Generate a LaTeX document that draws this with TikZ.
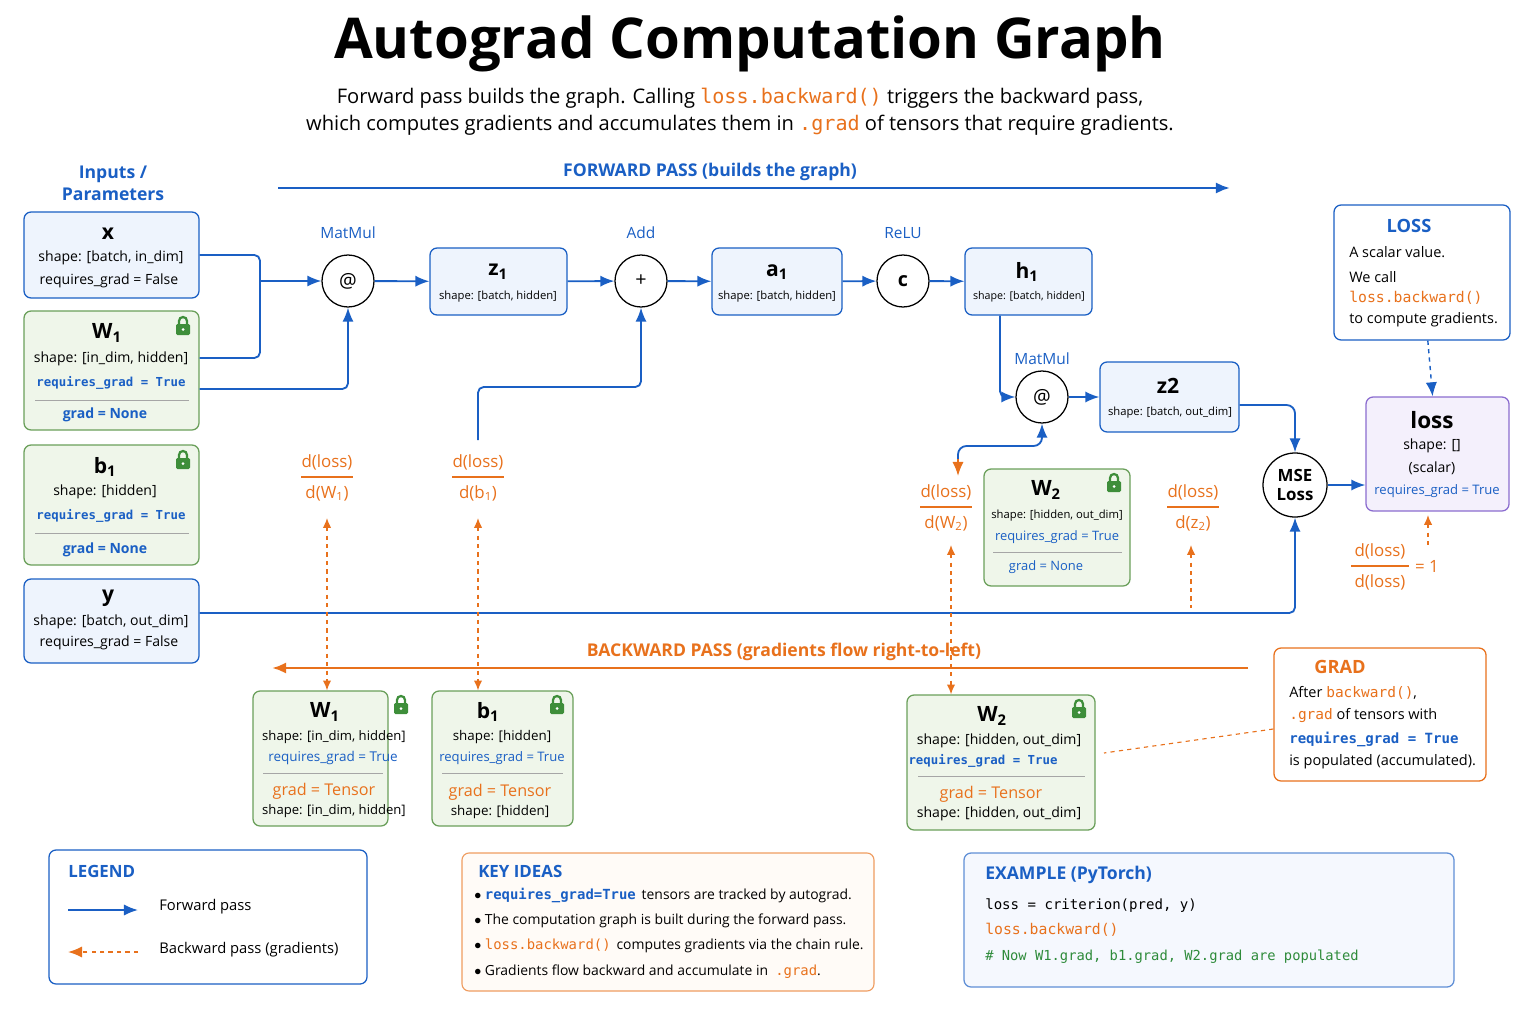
\documentclass[tikz,border=0pt]{standalone}
\usepackage{fontspec}
\setmainfont{Open Sans}
\setmonofont{DejaVu Sans Mono}
\usetikzlibrary{fit,positioning,arrows.meta}
\definecolor{fwdblue}{HTML}{1A5FC4}
\definecolor{bwdorange}{HTML}{E8711C}
\definecolor{boxblue}{HTML}{EEF4FD}
\definecolor{boxgreen}{HTML}{EFF6EA}
\definecolor{edgegreen}{HTML}{6A9F5A}
\definecolor{lockgreen}{HTML}{3E8E3A}
\definecolor{boxpurple}{HTML}{F4F0FC}
\definecolor{edgepurple}{HTML}{8B6CCF}
\definecolor{codegreen}{HTML}{2E8B3A}
\newcommand{\fs}[1]{\fontsize{#1}{#1}\selectfont}
\newcommand{\gradfrac}[5]{%
  \node[gradtxt] (#1num) at (#2,#3-15) {d(loss)};
  \draw[bwdorange, line width=0.8pt] (#2-#5,#3) -- (#2+#5,#3);
  \node[gradtxt] (#1den) at (#2,#3+16) {#4};}
\tikzset{padlock/.pic={
  \fill[lockgreen, rounded corners=1] (-7,-1) rectangle (7,10);
  \draw[lockgreen, line width=1.6pt] (-4,-1) -- (-4,-4) arc (180:360:4) -- (4,-1);
  \fill[white] (0,4.5) circle (1.5);}}
\begin{document}
\begin{tikzpicture}[x=0.025cm, y=-0.025cm, >={Latex[length=10pt,width=8pt]}]
  \tikzstyle{tbox}=[draw=fwdblue, fill=boxblue, rounded corners=5, line width=0.9pt, inner sep=0pt]
  \tikzstyle{pbox}=[draw=edgegreen, fill=boxgreen, rounded corners=5, line width=0.9pt, inner sep=0pt]
  \tikzstyle{note}=[draw=fwdblue, fill=white, rounded corners=5, line width=0.9pt, inner sep=0pt]
  \tikzstyle{op}=[draw, circle, fill=white, minimum size=1.3cm, inner sep=0pt, line width=0.9pt, font=\fs{14}]
  \tikzstyle{ttl}=[inner sep=0pt, font=\fs{15}\bfseries]
  \tikzstyle{txt}=[inner sep=0pt, font=\fs{10}]
  \tikzstyle{small}=[inner sep=0pt, font=\fs{8}]
  \tikzstyle{req}=[inner sep=0pt, font=\fs{8.8}\ttfamily\bfseries, text=fwdblue]
  \tikzstyle{oplbl}=[inner sep=0pt, font=\fs{11}, text=fwdblue]
  \tikzstyle{gradtxt}=[inner sep=0pt, font=\fs{12}, text=bwdorange]
  \tikzstyle{fwd}=[draw=fwdblue, line width=1.3pt, ->]
  \tikzstyle{bwd}=[draw=bwdorange, line width=1pt, dashed, {Latex[length=7pt,width=6pt]}-{Latex[length=7pt,width=6pt]}]
  \tikzstyle{sep}=[draw=gray!70, line width=0.6pt]
  \useasboundingbox (0,0) rectangle (1536,1024);

% title
\node[inner sep=0pt, font=\fs{40}\bfseries] (title) at (750,44) {Autograd Computation Graph};
\node[inner sep=0pt, font=\fs{14.3}] (sub1) at (740,98) {Forward pass builds the graph. Calling \textcolor{bwdorange}{\texttt{loss.backward()}} triggers the backward pass,};
\node[inner sep=0pt, font=\fs{14.3}] (sub2) at (740,125) {which computes gradients and accumulates them in \textcolor{bwdorange}{\texttt{.grad}} of tensors that require gradients.};

\node[inner sep=0pt, font=\fs{12.5}\bfseries, text=fwdblue, align=center] (inlbl) at (113,183) {Inputs /\\[3pt]Parameters};
\coordinate (fwdA) at (278,188);
\coordinate (fwdB) at (1230,188);
\draw[fwd, line width=2pt] (fwdA) -- (fwdB);
\node[inner sep=0pt, font=\fs{12.5}\bfseries, text=fwdblue] (fwdlbl) at (710,172) {FORWARD PASS (builds the graph)};

% inputs
\node[tbox, fit={(24,212)(199,298)}] (x) {};
\node[ttl] (xt) at (108,234) {x};
\node[txt] (xs) at (111,258) {shape: [batch, in\_dim]};
\node[txt] (xr) at (109,281) {requires\_grad = False};

\node[pbox, fit={(24,311)(199,430)}] (W1) {};
\node[ttl] (W1t) at (107,333) {W\textsubscript{1}};
\pic at (183,325) {padlock};
\node[txt] (W1s) at (111,359) {shape: [in\_dim, hidden]};
\node[req] (W1r) at (111,383) {requires\_grad = True};
\draw[sep] (35,400) -- (189,400);
\node[txt, font=\fs{10}\bfseries, text=fwdblue] (W1g) at (105,415) {grad = None};

\node[pbox, fit={(24,445)(199,565)}] (b1) {};
\node[ttl] (b1t) at (105,467) {b\textsubscript{1}};
\pic at (183,459) {padlock};
\node[txt] (b1s) at (105,492) {shape: [hidden]};
\node[req] (b1r) at (111,516) {requires\_grad = True};
\draw[sep] (35,533) -- (189,533);
\node[txt, font=\fs{10}\bfseries, text=fwdblue] (b1g) at (105,550) {grad = None};

\node[tbox, fit={(24,579)(199,663)}] (y) {};
\node[ttl] (yt) at (108,598) {y};
\node[txt] (ys) at (111,622) {shape: [batch, out\_dim]};
\node[txt] (yr) at (109,643) {requires\_grad = False};

% forward graph
\node[op] (mm1) at (348,281) {@};
\node[oplbl] (mm1l) at (348,233) {MatMul};
\node[tbox, fit={(430,248)(567,315)}] (z1) {};
\node[ttl] (z1t) at (498,272) {z\textsubscript{1}};
\node[small] (z1s) at (498,297) {shape: [batch, hidden]};
\node[op] (add) at (641,281) {+};
\node[oplbl] (addl) at (641,233) {Add};
\node[tbox, fit={(712,248)(842,315)}] (a1) {};
\node[ttl] (a1t) at (777,272) {a\textsubscript{1}};
\node[small] (a1s) at (777,297) {shape: [batch, hidden]};
\node[op] (relu) at (903,281) {\textbf{c}};
\node[oplbl] (relul) at (903,233) {ReLU};
\node[tbox, fit={(965,248)(1092,315)}] (h1) {};
\node[ttl] (h1t) at (1027,272) {h\textsubscript{1}};
\node[small, font=\fs{7.6}] (h1s) at (1029,297) {shape: [batch, hidden]};
\node[op] (mm2) at (1042,397) {@};
\node[oplbl] (mm2l) at (1042,359) {MatMul};
\node[tbox, fit={(1100,362)(1239,432)}] (z2) {};
\node[ttl] (z2t) at (1168,386) {z2};
\node[small] (z2s) at (1170,413) {shape: [batch, out\_dim]};
\node[op, minimum size=1.6cm, font=\fs{12}\bfseries, align=center] (mse) at (1295,485) {MSE\\[2pt]Loss};
\node[draw=edgepurple, fill=boxpurple, rounded corners=5, line width=0.9pt, inner sep=0pt, fit={(1366,397)(1509,511)}] (loss) {};
\node[ttl, font=\fs{16}\bfseries] (losst) at (1432,420) {loss};
\node[txt] (losss) at (1432,446) {shape: []};
\node[txt] (lossc) at (1432,468) {(scalar)};
\node[txt, font=\fs{9.3}, text=fwdblue] (lossr) at (1437,491) {requires\_grad = True};

\node[note, fit={(1334,205)(1510,340)}] (lossnote) {};
\node[inner sep=0pt, font=\fs{13}\bfseries, text=fwdblue] (lossnotet) at (1409,226) {LOSS};
\node[txt, anchor=west, font=\fs{10.3}] (ln1) at (1349,252) {A scalar value.};
\node[txt, anchor=west, font=\fs{10.3}] (ln2) at (1349,277) {We call};
\node[txt, anchor=west, font=\fs{10.5}\ttfamily, text=bwdorange] (ln3) at (1349,298) {loss.backward()};
\node[txt, anchor=west, font=\fs{10.3}] (ln4) at (1349,320) {to compute gradients.};

\node[pbox, fit={(984,469)(1130,586)}] (W2) {};
\node[ttl] (W2t) at (1046,490) {W\textsubscript{2}};
\pic at (1114,482) {padlock};
\node[small] (W2s) at (1057,516) {shape: [hidden, out\_dim]};
\node[txt, font=\fs{9.2}, text=fwdblue] (W2r) at (1057,537) {requires\_grad = True};
\draw[sep] (993,552) -- (1122,552);
\node[txt, font=\fs{9.2}, text=fwdblue] (W2g) at (1046,567) {grad = None};

% forward edges
\coordinate (jx) at (260,281);
\draw[draw=fwdblue, line width=1.3pt, rounded corners=4] (x.east |- 0,255) -| (jx) |- (W1.east |- 0,358);
\draw[fwd] (jx) -- (mm1);
\draw[fwd, rounded corners=4] (W1.east |- 0,389) -| (mm1);
\draw[fwd] (mm1) -- (z1);
\coordinate (b1src) at (478,440);
\draw[fwd, rounded corners=4] (b1src) |- (560,387) -| (add);
\draw[fwd] (z1) -- (add);
\draw[fwd] (add) -- (a1);
\draw[fwd] (a1) -- (relu);
\draw[fwd] (relu) -- (h1);
\draw[fwd, rounded corners=4] (h1.south -| 1000,0) |- (mm2);
\draw[fwd] (mm2) -- (z2);
\draw[fwd, rounded corners=6] (z2.east |- 0,405) -| (mse);
\draw[fwd, rounded corners=4] (y.east |- 0,613) -| (mse);
\draw[fwd] (mse) -- (loss.west |- mse);
\draw[fwd, <-, rounded corners=6] (mm2) |- (1000,446) -| (958,460);
\draw[draw=bwdorange, fill=bwdorange, ->, line width=1.3pt] (958,459) -- (958,476);
\draw[fwd, dashed, line width=1pt] (lossnote) -- (loss);

% gradient labels
\gradfrac{gW1}{327}{477}{d(W\textsubscript{1})}{26}
\gradfrac{gb1}{478}{477}{d(b\textsubscript{1})}{26}
\gradfrac{gW2}{946}{507}{d(W\textsubscript{2})}{26}
\gradfrac{gz2}{1193}{507}{d(z\textsubscript{2})}{26}
\gradfrac{gL}{1380}{566}{d(loss)}{29}
\node[gradtxt] (eq1) at (1427,566) {= 1};

% backward pass
\coordinate (bwdA) at (1248,668);
\coordinate (bwdB) at (272,668);
\draw[draw=bwdorange, line width=2pt, ->] (bwdA) -- (bwdB);
\node[inner sep=0pt, font=\fs{12.5}\bfseries, text=bwdorange] (bwdlbl) at (784,652) {BACKWARD PASS (gradients flow right-to-left)};

\node[pbox, fit={(253,691)(388,826)}] (W1b) {};
\node[ttl] (W1bt) at (325,712) {W\textsubscript{1}};
\pic at (401,704) {padlock};
\node[small, font=\fs{9.3}] (W1bs) at (334,737) {shape: [in\_dim, hidden]};
\node[txt, font=\fs{9.6}, text=fwdblue] (W1br) at (333,758) {requires\_grad = True};
\draw[sep] (263,773) -- (383,773);
\node[txt, font=\fs{11.5}, text=bwdorange] (W1bg) at (324,791) {grad = Tensor};
\node[small, font=\fs{9.3}] (W1bs2) at (334,811) {shape: [in\_dim, hidden]};

\node[pbox, fit={(432,691)(573,826)}] (b1b) {};
\node[ttl] (b1bt) at (488,712) {b\textsubscript{1}};
\pic at (557,704) {padlock};
\node[small, font=\fs{9.5}] (b1bs) at (502,737) {shape: [hidden]};
\node[txt, font=\fs{9.3}, text=fwdblue] (b1br) at (502,758) {requires\_grad = True};
\draw[sep] (442,773) -- (563,773);
\node[txt, font=\fs{11.5}, text=bwdorange] (b1bg) at (500,792) {grad = Tensor};
\node[small, font=\fs{9.5}] (b1bs2) at (500,812) {shape: [hidden]};

\node[pbox, fit={(907,695)(1095,830)}] (W2b) {};
\node[ttl] (W2bt) at (992,716) {W\textsubscript{2}};
\pic at (1079,708) {padlock};
\node[txt] (W2bs) at (999,741) {shape: [hidden, out\_dim]};
\node[req] (W2br) at (983,761) {requires\_grad = True};
\draw[sep] (918,776) -- (1085,776);
\node[txt, font=\fs{11.5}, text=bwdorange] (W2bg) at (991,794) {grad = Tensor};
\node[txt] (W2bs2) at (999,814) {shape: [hidden, out\_dim]};

\draw[bwd] (gW1den.south |- 0,518) -- (W1b.north -| 327,0);
\draw[bwd] (gb1den.south |- 0,518) -- (b1b.north -| 478,0);
\draw[bwd] (951,545) -- (W2b.north -| 951,0);
\draw[bwd, {Latex[length=7pt,width=6pt]}-] (1191,545) -- (1191,608);
\draw[bwd, {Latex[length=7pt,width=6pt]}-] (1428,515) -- (1428,548);

\node[draw=bwdorange, fill=white, rounded corners=5, line width=0.9pt, inner sep=0pt, fit={(1274,648)(1486,781)}] (gradnote) {};
\node[inner sep=0pt, font=\fs{13}\bfseries, text=bwdorange] (gradnotet) at (1340,667) {GRAD};
\node[txt, anchor=west, font=\fs{10.3}] (gn1) at (1289,693) {After \textcolor{bwdorange}{\texttt{backward()}},};
\node[txt, anchor=west, font=\fs{10.3}] (gn2) at (1289,716) {\textcolor{bwdorange}{\texttt{.grad}} of tensors with};
\node[req, anchor=west, font=\fs{10}\ttfamily\bfseries] (gn3) at (1289,739) {requires\_grad = True};
\node[txt, anchor=west, font=\fs{10.3}] (gn4) at (1289,762) {is populated (accumulated).};
\draw[draw=bwdorange, dashed, line width=0.8pt] (gradnote.west |- 0,729) -- (1104,753);

% legend
\node[note, fit={(49,850)(367,984)}] (legend) {};
\node[inner sep=0pt, anchor=west, font=\fs{12}\bfseries, text=fwdblue] (legt) at (68,871) {LEGEND};
\coordinate (lf1) at (68,910);
\coordinate (lf2) at (138,910);
\draw[fwd] (lf1) -- (lf2);
\node[txt, anchor=west, font=\fs{10.5}] (legf) at (159,907) {Forward pass};
\coordinate (lb1) at (138,952);
\coordinate (lb2) at (68,952);
\draw[draw=bwdorange, dashed, line width=1.2pt, ->] (lb1) -- (lb2);
\node[txt, anchor=west, font=\fs{10.5}] (legb) at (159,950) {Backward pass (gradients)};

% key ideas
\node[draw=bwdorange!70, fill=orange!3, rounded corners=5, line width=0.8pt, inner sep=0pt, fit={(462,853)(874,991)}] (keyideas) {};
\node[inner sep=0pt, anchor=west, font=\fs{12}\bfseries, text=fwdblue] (kit) at (478,871) {KEY IDEAS};
\node[txt, anchor=west, font=\fs{9.9}] (ki1) at (474,896) {$\bullet$ \textcolor{fwdblue}{\texttt{\bfseries requires\_grad=True}}\, tensors are tracked by autograd.};
\node[txt, anchor=west, font=\fs{9.9}] (ki2) at (474,921) {$\bullet$ The computation graph is built during the forward pass.};
\node[txt, anchor=west, font=\fs{9.9}] (ki3) at (474,946) {$\bullet$ \textcolor{bwdorange}{\texttt{loss.backward()}}\, computes gradients via the chain rule.};
\node[txt, anchor=west, font=\fs{9.9}] (ki4) at (474,972) {$\bullet$ Gradients flow backward and accumulate in \ \textcolor{bwdorange}{\texttt{.grad}}.};

% example
\node[note, fill=boxblue!60, draw=fwdblue!70, fit={(964,853)(1454,987)}] (example) {};
\node[inner sep=0pt, anchor=west, font=\fs{12.5}\bfseries, text=fwdblue] (ext) at (985,875) {EXAMPLE (PyTorch)};
\node[inner sep=0pt, anchor=west, font=\fs{10}\ttfamily] (ex1) at (985,906) {loss = criterion(pred, y)};
\node[inner sep=0pt, anchor=west, font=\fs{10.5}\ttfamily, text=bwdorange] (ex2) at (985,930) {loss.backward()};
\node[inner sep=0pt, anchor=west, font=\fs{9.8}\ttfamily, text=codegreen] (ex3) at (985,957) {\# Now W1.grad, b1.grad, W2.grad are populated};

\end{tikzpicture}
\end{document}
